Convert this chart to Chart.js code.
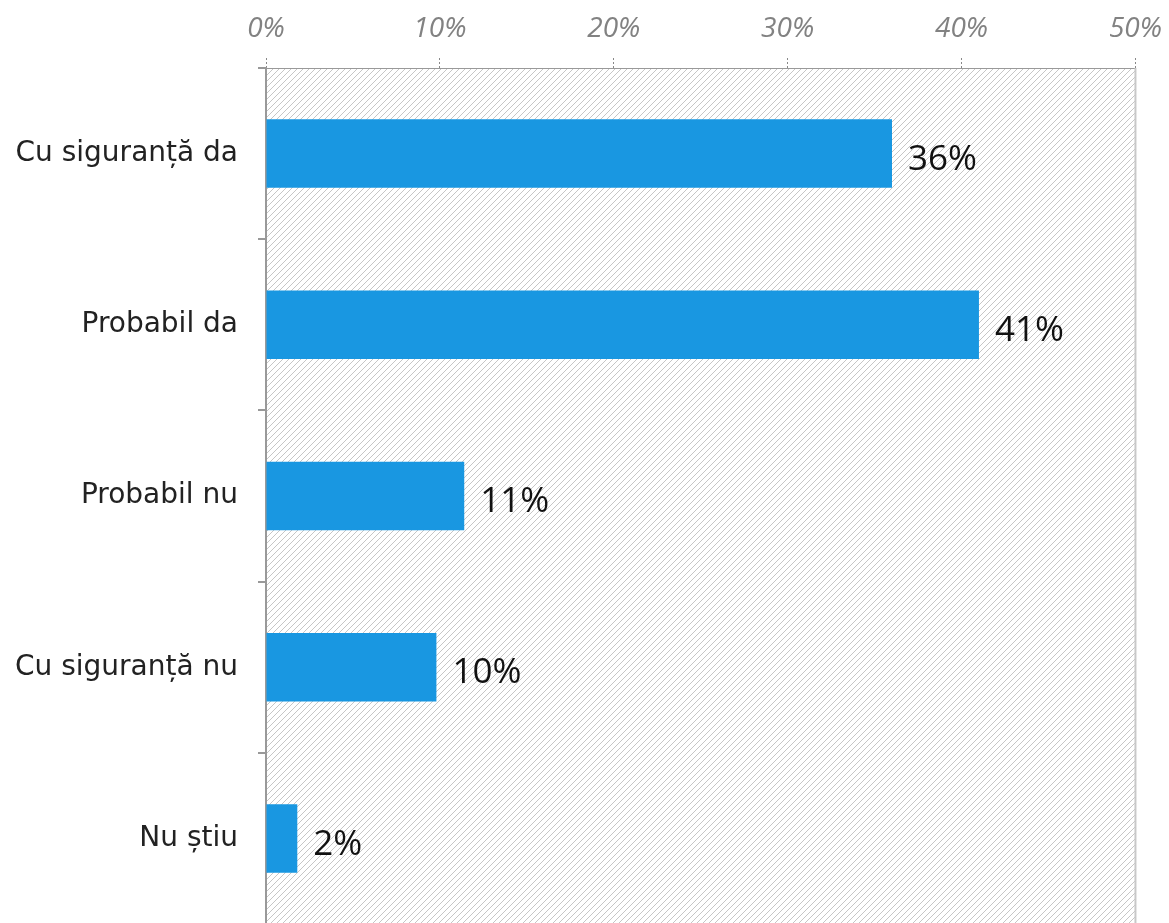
<!DOCTYPE html>
<html>
<head>
<meta charset="utf-8">
<script src="https://cdn.jsdelivr.net/npm/chart.js@4"></script>
<style>
  html, body { margin: 0; padding: 0; background: #fff; overflow: hidden; }
  canvas { display: block; }
</style>
</head>
<body>
<canvas id="chart" width="1174" height="961"></canvas>
<script>
// --- data ---
const categories = ["Cu siguranță da", "Probabil da", "Probabil nu", "Cu siguranță nu", "Nu știu"];
const values = [36, 41, 11.4, 9.8, 1.8];
const valueLabels = ["36%", "41%", "11%", "10%", "2%"];
const axisTicks = [0, 10, 20, 30, 40, 50];

// small 6x6 tile with a pixel-stepped "/" diagonal
function makeHatch() {
  const c = document.createElement('canvas');
  c.width = 6; c.height = 6;
  const g = c.getContext('2d');
  g.fillStyle = '#c6c6c6';
  for (let i = 0; i < 6; i++) g.fillRect(i, 5 - i, 1, 1);
  return c;
}

// hatched plot background + right border
const hatchPlugin = {
  id: 'hatch',
  beforeDatasetsDraw(chart) {
    const { ctx, chartArea: a } = chart;
    ctx.save();
    ctx.fillStyle = ctx.createPattern(makeHatch(), 'repeat');
    ctx.fillRect(a.left + 1, a.top + 1, a.right - a.left - 1, a.bottom - a.top - 1);
    ctx.restore();
    ctx.save();
    ctx.strokeStyle = '#c8c8c8';
    ctx.lineWidth = 2;
    ctx.beginPath();
    ctx.moveTo(a.right, a.top);
    ctx.lineTo(a.right, a.bottom);
    ctx.stroke();
    ctx.restore();
  }
};

// value labels at bar ends
const valuePlugin = {
  id: 'values',
  afterDatasetsDraw(chart) {
    const { ctx } = chart;
    const meta = chart.getDatasetMeta(0);
    ctx.save();
    ctx.font = '35px "Open Sans"';
    ctx.fillStyle = '#111';
    ctx.textBaseline = 'middle';
    ctx.textAlign = 'left';
    meta.data.forEach((bar, i) => {
      ctx.fillText(valueLabels[i], bar.x + 16, bar.y + 6);
    });
    ctx.restore();
  }
};

new Chart(document.getElementById('chart'), {
  type: 'bar',
  data: {
    labels: categories,
    datasets: [{
      data: values,
      backgroundColor: '#1997e1',
      borderWidth: 0,
      barPercentage: 0.4,
      categoryPercentage: 1.0
    }]
  },
  plugins: [hatchPlugin, valuePlugin],
  options: {
    indexAxis: 'y',
    responsive: false,
    animation: false,
    layout: { padding: { top: 0, right: 33, bottom: -2, left: 0 } },
    plugins: { legend: { display: false }, tooltip: { enabled: false } },
    scales: {
      x: {
        position: 'top',
        min: 0,
        max: 50,
        afterBuildTicks(scale) { scale.ticks = axisTicks.map(v => ({ value: v })); },
        afterFit(scale) { scale.height = 68; },
        ticks: {
          color: '#828282',
          font: { family: '"Open Sans"', size: 28, style: 'italic' },
          padding: 12,
          maxRotation: 0,
          callback: v => v + '%'
        },
        grid: {
          drawOnChartArea: false,
          color: '#888',
          tickLength: 10,
          tickBorderDash: [2, 2],
          lineWidth: 1
        },
        border: { color: '#999', dash: [2, 2], width: 1 }
      },
      y: {
        afterFit(scale) { scale.width = 266; },
        ticks: {
          color: '#222',
          font: { family: '"DejaVu Sans"', size: 28 },
          padding: 20
        },
        grid: {
          drawOnChartArea: false,
          color: '#999',
          tickLength: 8,
          lineWidth: 2
        },
        border: { color: '#999', width: 2 }
      }
    }
  }
});
</script>
</body>
</html>
